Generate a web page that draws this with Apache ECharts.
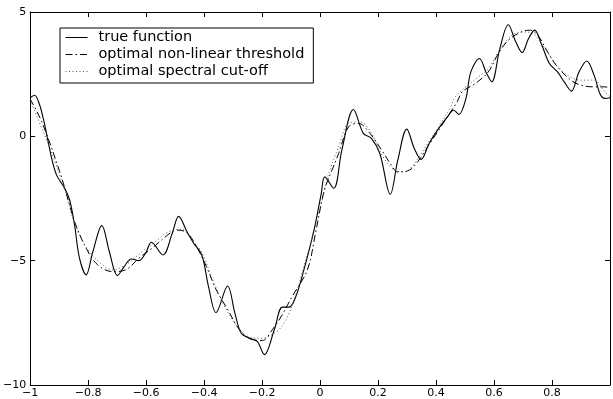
<!DOCTYPE html>
<html><head><meta charset="utf-8">
<script src="https://cdn.jsdelivr.net/npm/echarts@6/dist/echarts.min.js"></script>
<style>html,body{margin:0;padding:0;background:#fff}#c{width:613px;height:399px}</style>
</head><body><div id="c"></div>
<script>
const seriesNames = ['true function', 'optimal non-linear threshold', 'optimal spectral cut-off'];
const xTicks = [-1, -0.8, -0.6, -0.4, -0.2, 0, 0.2, 0.4, 0.6, 0.8];
const yTicks = [-10, -5, 0, 5];

const trueX = [-1.0,-0.985,-0.97,-0.955,-0.938,-0.926,-0.909,-0.881,-0.864,-0.847,-0.83,-0.807,-0.784,-0.753,-0.727,-0.699,-0.676,-0.651,-0.625,-0.602,-0.582,-0.542,-0.51,-0.488,-0.459,-0.436,-0.408,-0.385,-0.359,-0.319,-0.294,-0.272,-0.243,-0.217,-0.192,-0.158,-0.13,-0.107,-0.084,-0.056,-0.021,0.004,0.016,0.047,0.075,0.115,0.149,0.177,0.206,0.242,0.268,0.299,0.325,0.348,0.376,0.405,0.439,0.461,0.479,0.503,0.52,0.55,0.572,0.592,0.62,0.649,0.675,0.697,0.719,0.74,0.765,0.791,0.819,0.842,0.867,0.893,0.92,0.945,0.968,0.985,1.0];
const trueY = [1.55,1.65,1.35,0.72,-0.22,-0.89,-1.56,-2.09,-2.56,-3.57,-4.9,-5.57,-4.64,-3.59,-4.64,-5.6,-5.24,-4.93,-5.0,-4.7,-4.26,-4.77,-3.9,-3.22,-3.84,-4.3,-4.77,-6.04,-7.09,-6.02,-7.11,-7.92,-8.12,-8.25,-8.78,-7.78,-6.87,-6.87,-6.45,-5.37,-3.77,-2.3,-1.63,-2.09,-0.55,1.08,0.12,-0.08,-0.69,-2.33,-0.96,0.29,-0.49,-0.93,-0.29,0.25,0.78,1.05,0.88,1.52,2.59,3.13,2.59,2.19,3.53,4.49,3.8,3.37,3.93,4.27,3.66,2.93,2.59,2.19,1.82,2.59,3.03,2.46,1.65,1.52,1.55];

const thrX = [-1.0,-0.96,-0.898,-0.864,-0.847,-0.807,-0.767,-0.716,-0.671,-0.625,-0.58,-0.512,-0.494,-0.46,-0.426,-0.392,-0.358,-0.318,-0.278,-0.233,-0.199,-0.165,-0.131,-0.097,-0.044,-0.016,0.0065,0.018,0.041,0.064,0.098,0.132,0.172,0.212,0.246,0.268,0.308,0.337,0.371,0.405,0.45,0.473,0.49,0.535,0.58,0.615,0.649,0.694,0.723,0.751,0.785,0.819,0.865,0.899,0.944,0.982,1.0];
const thrY = [1.5,0.58,-1.43,-2.76,-3.43,-4.5,-5.17,-5.44,-5.37,-4.9,-4.5,-3.84,-3.77,-3.87,-4.44,-5.24,-6.18,-6.98,-7.78,-8.18,-8.21,-7.78,-7.18,-6.45,-5.37,-3.9,-2.56,-2.03,-1.36,-0.69,0.38,0.52,0.12,-0.55,-1.16,-1.43,-1.36,-1.02,-0.42,0.18,0.98,1.39,1.79,2.12,2.59,3.33,3.86,4.2,4.27,4.06,3.39,2.79,2.26,2.06,1.99,1.99,1.95];

const specX = [-1.0,-0.955,-0.91,-0.876,-0.853,-0.83,-0.796,-0.75,-0.716,-0.671,-0.614,-0.569,-0.523,-0.477,-0.443,-0.409,-0.375,-0.335,-0.294,-0.249,-0.204,-0.158,-0.124,-0.09,-0.056,-0.021,0.013,0.03,0.064,0.098,0.138,0.177,0.217,0.257,0.291,0.325,0.371,0.416,0.45,0.467,0.524,0.58,0.615,0.661,0.7,0.734,0.768,0.808,0.853,0.899,0.944,0.982,1.0];
const specY = [1.45,0.18,-1.16,-2.36,-3.3,-3.97,-4.64,-5.17,-5.37,-5.17,-4.64,-4.24,-3.84,-3.74,-4.17,-4.64,-5.64,-6.71,-7.51,-8.05,-8.12,-7.92,-7.51,-6.58,-5.24,-3.77,-2.29,-1.49,-0.42,0.52,0.58,0.12,-0.82,-1.36,-1.43,-1.09,-0.29,0.52,1.18,1.6,2.19,2.73,3.39,4.06,4.2,4.13,3.66,2.99,2.46,2.26,2.26,1.79,1.6];

const zip = (xs, ys) => xs.map((x, i) => [x, ys[i]]);
const fmt = v => {
  const r = Math.round(v * 10) / 10;
  if (xTicks.indexOf(r) < 0 && yTicks.indexOf(r) < 0) return '';
  return String(r).replace('-', '\u2212');
};
const font = 'DejaVu Sans';
const chart = echarts.init(document.getElementById('c'), null, {renderer: 'canvas'});
const axisCommon = {
  axisLine: {onZero: false, lineStyle: {color: '#000', width: 1}},
  axisTick: {inside: true, length: 5, lineStyle: {color: '#000'}},
  splitLine: {show: false}
};
chart.setOption({
  animation: false,
  backgroundColor: '#fff',
  grid: {left: 30, top: 12, right: -4, bottom: 14},
  legend: {
    orient: 'vertical', left: 60, top: 28,
    backgroundColor: '#fff', borderColor: '#000', borderWidth: 1,
    padding: [2, 9, 4, 5], itemWidth: 22, itemHeight: 14, itemGap: 2,
    itemStyle: {opacity: 0},
    lineStyle: {width: 1},
    textStyle: {fontFamily: font, fontSize: 14.5, color: '#000', padding: [0, 0, 0, 6]},
    data: seriesNames
  },
  xAxis: [
    Object.assign({type: 'value', min: -1, max: 1, interval: 0.2,
      axisLabel: {formatter: v => (Math.abs(v - 1) < 1e-9 ? '' : fmt(v)), color: '#000', fontFamily: font, fontSize: 11, margin: 3}}, axisCommon),
    Object.assign({type: 'value', position: 'top', min: -1, max: 1, interval: 0.2, axisLabel: {show: false}}, axisCommon)
  ],
  yAxis: [
    Object.assign({type: 'value', min: -10, max: 5, interval: 5,
      axisLabel: {formatter: fmt, color: '#000', fontFamily: font, fontSize: 11, margin: 4}}, axisCommon),
    Object.assign({type: 'value', position: 'right', min: -10, max: 5, interval: 5, axisLabel: {show: false}}, axisCommon)
  ],
  series: [
    {name: seriesNames[0], type: 'line', data: zip(trueX, trueY), smooth: 0.35, symbol: 'none',
      itemStyle: {color: '#000'}, lineStyle: {color: '#000', width: 1.1}},
    {name: seriesNames[1], type: 'line', data: zip(thrX, thrY), smooth: 0.35, symbol: 'none',
      itemStyle: {color: '#000'}, lineStyle: {color: '#000', width: 1, type: [7, 3, 1.5, 3]}},
    {name: seriesNames[2], type: 'line', data: zip(specX, specY), smooth: 0.35, symbol: 'none',
      itemStyle: {color: '#555'}, lineStyle: {color: '#555', width: 1, type: [1, 2.5]}}
  ]
});
</script></body></html>
